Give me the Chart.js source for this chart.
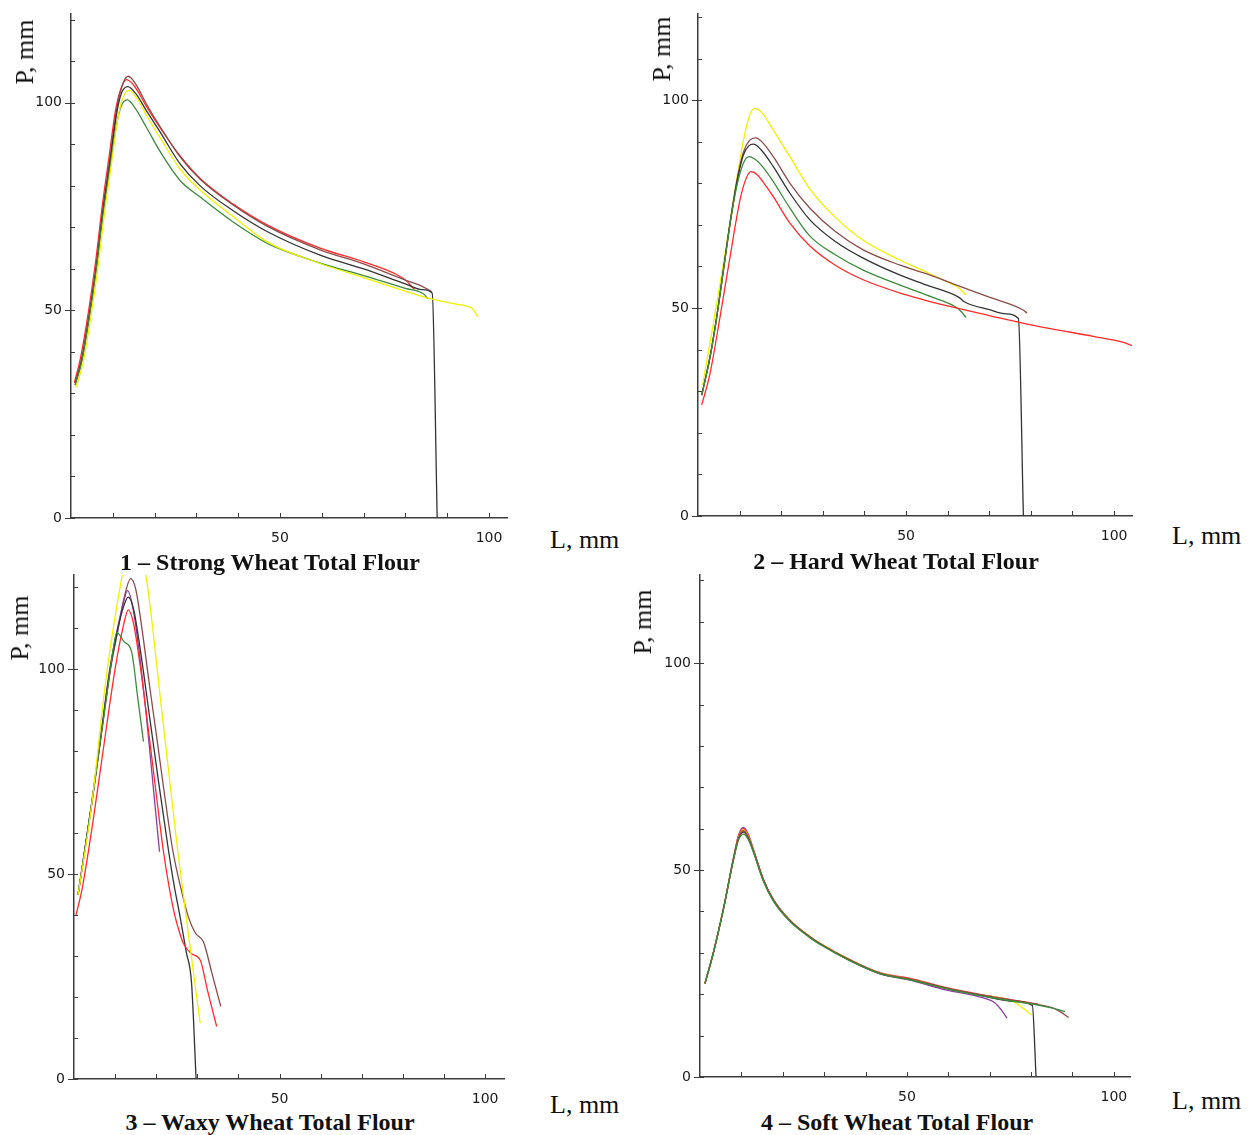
<!DOCTYPE html>
<html>
<head>
<meta charset="utf-8">
<script src="https://cdn.jsdelivr.net/npm/chart.js@4.4.1/dist/chart.umd.min.js"></script>
<style>
    body { margin: 0; background: #fff; }
    #page { position: relative; width: 1254px; height: 1135px; overflow: hidden; }
    canvas { position: absolute; }
    .axt { position: absolute; font-family: 'Liberation Serif', 'Times New Roman', serif; font-size: 26px; color: #111; white-space: nowrap; line-height: 1; }
    .rot { transform: translate(-50%, -50%) rotate(-90deg); }
    .cap { position: absolute; font-family: 'Liberation Serif', 'Times New Roman', serif; font-weight: bold; font-size: 24px; color: #111; white-space: nowrap; line-height: 1; transform: translateX(-50%); }
</style>
</head>
<body>
<div id="page">
    <canvas id="strongChart"></canvas>
    <canvas id="hardChart"></canvas>
    <canvas id="waxyChart"></canvas>
    <canvas id="softChart"></canvas>

    <div class="axt rot" style="left:25px; top:52px;">P, mm</div>
    <div class="axt" style="left:550px; top:527px;">L, mm</div>
    <div class="cap" style="left:270px; top:550px;">1 – Strong Wheat Total Flour</div>

    <div class="axt rot" style="left:662px; top:49px;">P, mm</div>
    <div class="axt" style="left:1172px; top:523px;">L, mm</div>
    <div class="cap" style="left:896px; top:549px;">2 – Hard Wheat Total Flour</div>

    <div class="axt rot" style="left:20px; top:628px;">P, mm</div>
    <div class="axt" style="left:550px; top:1092px;">L, mm</div>
    <div class="cap" style="left:270px; top:1110px;">3 – Waxy Wheat Total Flour</div>

    <div class="axt rot" style="left:643px; top:622px;">P, mm</div>
    <div class="axt" style="left:1172px; top:1088px;">L, mm</div>
    <div class="cap" style="left:897px; top:1110px;">4 – Soft Wheat Total Flour</div>
</div>
<script>
// curves as [L, P] pairs (mm)

// 1 – strong wheat
const strongRed    = [[0.8,32.5],[2.4,39.2],[4.3,50.5],[5.9,61.8],[7.5,75.3],[9.1,87],[10.7,98.5],[12.0,103.6],[13.3,105.6],[15.2,104],[18.0,99.2],[21.3,94],[26.1,87.2],[30.9,81.8],[38.8,75.6],[46.9,70.6],[59.6,65],[70,61.7],[78,58.6],[80.4,57],[81.5,55.7],[82.2,55.1]];
const strongBrown  = [[1.0,32.5],[2.6,38.8],[4.5,50.2],[6.1,61.4],[7.7,75],[9.3,86.5],[10.9,98.3],[12.2,104],[13.7,106.4],[15.5,104.5],[18.1,99.6],[21.3,94.3],[26.1,87],[30.9,81.6],[38.8,75.4],[46.9,70.3],[59.6,64.6],[70,61.2],[80,57.3],[84,55.8],[86.3,54.5]];
const strongBlack  = [[1.0,32],[2.6,38],[4.5,49.3],[6.1,60.6],[7.7,74.2],[9.3,85.5],[10.9,97.3],[12.1,102.4],[13.6,103.9],[15.5,102.2],[18.1,98],[21.3,93],[26.1,85.3],[30.9,80],[38.8,74],[46.9,69],[59.6,63.3],[70,60],[80,56.4],[84,55],[86.4,54.2],[87.6,0]];
const strongYellow = [[1.2,31.5],[2.9,37.5],[4.8,48.8],[6.4,60],[8.0,73.3],[9.6,84.8],[11.2,96.2],[12.4,101.2],[13.9,103],[15.7,101.2],[18.3,96.6],[21.5,91.3],[26.1,84],[30.9,79],[38.8,72.6],[46.9,66.5],[59.6,61.3],[70,57.9],[80,54.6],[85,53.1],[92,51.5],[95.9,50.5],[97.4,48.4]];
const strongGreen  = [[1.0,32],[2.6,37.8],[4.5,49],[6.1,60.2],[7.7,73.3],[9.3,84.2],[10.9,94.8],[12.1,99.4],[13.5,100.7],[15.3,98.8],[18.1,94],[21.3,88.3],[26.1,81.3],[30.9,77.3],[38.8,71.3],[46.9,66.2],[59.6,61.4],[70,58.4],[80,55.3],[84.3,54],[85.4,52.8]];

// 2 – hard wheat
const hardYellow = [[1.1,31.5],[3.7,46.3],[6.1,60.6],[8.5,76],[10.9,90.2],[12.5,96.6],[13.7,98],[15.5,96.8],[18.1,92.8],[22.1,86.4],[26.9,78.6],[33,71.8],[39.7,66.3],[48.6,61.5],[55,58.6],[60,56.2],[63,54.6],[64.4,53.1]];
const hardBrown  = [[0.9,29.1],[2.9,38.3],[4.5,47.9],[6.1,59.1],[7.7,70.4],[9.3,80.4],[10.9,87.5],[12.4,90.3],[13.9,90.9],[15.7,89.6],[18.1,86.4],[22.1,80],[26.9,74],[33,68.4],[39.7,64],[48.6,60.3],[55,58.2],[63,55.2],[70,52.6],[78,49.6],[79.1,48.8]];
const hardBlack  = [[0.9,29.1],[2.9,38.3],[4.5,47.9],[6.1,59.1],[7.7,70.4],[9.3,80],[10.9,86.8],[12.2,89],[13.3,89.4],[15.2,88],[18.1,84],[22.1,77.6],[26.9,71.2],[33,66],[39.7,62],[48.6,57.9],[55,55.5],[62.8,52.5],[64,51.5],[70,49.6],[74,48.6],[77,47.5],[78.2,0]];
const hardGreen  = [[0.9,29],[2.9,38.2],[4.5,47.8],[6.1,59],[7.7,70.2],[9.3,79.2],[10.9,84.8],[12.3,86.4],[13.8,85.7],[15.5,84],[18.1,80.4],[22.1,74],[26.9,67.3],[33,62.8],[39.7,59.1],[48.6,55.5],[55,53.1],[60.5,51],[62.3,50],[63.4,49],[64.4,47.7]];
const hardRed    = [[0.9,26.7],[2.9,34.3],[5.3,47.9],[7.7,62.3],[10.1,76],[11.5,81],[12.7,82.8],[14.3,82],[16,79.8],[18.1,76.8],[22.1,70.4],[26.9,64.9],[33,60.3],[39.7,56.8],[48.6,53.6],[60,50.5],[70,48.2],[77.4,46.5],[85,45],[95,43.2],[102,41.8],[104.3,41]];

// 3 – waxy wheat
const waxyYellow = [[1,45],[4,64.5],[8.1,100],[11.8,123.3],[13.5,131.5],[15,131],[17.4,123.3],[21.5,88.5],[25.2,55.9],[28,34],[30.7,13.6]];
const waxyBrown  = [[1,45],[4.3,67],[6.5,83],[8.8,99.5],[10.5,108.5],[12,116.5],[13.8,122],[15,119.5],[16.5,110],[18.3,96.5],[20.1,83.5],[22,69.5],[24,55.9],[26,46.5],[27.8,39.6],[29.5,35.6],[31.5,33.4],[33.5,26],[35.7,17.7]];
const waxyPurple = [[1,45],[4.3,67.2],[6.5,83.5],[8.7,100],[10.5,109.5],[12,116],[13,119.1],[14.3,115],[16,103],[17.7,87.5],[19.3,71],[20.8,55.4]];
const waxyBlack  = [[1,45],[4.3,67.2],[6.5,83.5],[8.8,100],[10.5,109],[12,115],[13.2,117.5],[14.5,114.5],[16.3,103.5],[18.5,87.5],[20.5,73],[22.8,57],[24.3,47.5],[25.8,39.6],[27.3,31],[28.6,23.3],[29.7,0]];
const waxyRed    = [[0.5,40],[2,46.5],[4.5,62],[7,79.5],[10,100],[12,110.5],[13.2,114.4],[14.5,111],[16,101.5],[18,86],[20,69.5],[21.7,55.9],[23.2,46.5],[24.6,39.6],[25.8,35.3],[26.6,33.1],[28.5,30.6],[30.7,29],[32.5,21.5],[34.7,12.8]];
const waxyGreen  = [[1,45],[4.3,67],[6.5,83],[8.3,96],[9.5,104.5],[10.4,108.9],[12.2,106.6],[14,104.2],[15.5,93],[16.9,82.3]];

// 4 – soft wheat
const softPurple = [[1.2,22.6],[3.2,29.9],[5.6,40.3],[8,52.5],[9.3,58.4],[10.5,60.3],[11.7,58.6],[12.9,55],[15.3,47.8],[17.7,42.9],[21.7,37.9],[26.6,33.8],[29,32.2],[36,28.3],[43.5,24.9],[50.7,23.4],[59.6,21],[67,19.5],[71.3,17.9],[72.8,16.2],[74.2,14.2]];
const softYellow = [[1.2,22.6],[3.2,29.9],[5.6,40.3],[8,52.3],[9.3,57.9],[10.5,59.7],[11.7,58.1],[12.9,54.7],[15.3,47.6],[17.7,42.8],[21.7,37.9],[26.6,33.9],[29,32.3],[36,28.4],[43.5,25.1],[50.7,23.6],[59.6,21.4],[67,19.9],[75.7,18.2],[78.1,16.6],[80.1,15]];
const softBlack  = [[1.2,22.6],[3.2,29.9],[5.6,40.3],[8,52.2],[9.3,57.6],[10.5,59.2],[11.7,57.7],[12.9,54.6],[15.3,47.6],[17.7,42.8],[21.7,37.8],[26.6,33.8],[29,32.2],[36,28.3],[43.5,25],[50.7,23.6],[59.6,21.4],[67,19.9],[75.7,18.3],[80.3,17.3],[81.2,0]];
const softRed    = [[1.2,22.6],[3.2,29.9],[5.6,40.3],[8,52.4],[9.3,58.2],[10.5,60],[11.7,58.3],[12.9,54.9],[15.3,47.8],[17.7,42.9],[21.7,37.9],[26.6,33.9],[29,32.3],[36,28.5],[43.5,25.2],[50.7,23.8],[59.6,21.6],[67,20.1],[75.7,18.6],[80.5,17.8],[81.7,17.6]];
const softGreen  = [[1.2,22.6],[3.2,29.9],[5.6,40.3],[8,52],[9.3,57.2],[10.5,58.7],[11.7,57.3],[12.9,54.3],[15.3,47.3],[17.7,42.5],[21.7,37.6],[26.6,33.6],[29,32],[36,28.2],[43.5,25],[50.7,23.5],[59.6,21.3],[67,19.8],[75.7,18.3],[80.5,17.6],[84.9,16.7],[86.5,16.3],[88.2,15.8]];
const softBrown  = [[1.2,22.6],[3.2,29.9],[5.6,40.3],[8,52.2],[9.3,57.8],[10.5,59.5],[11.7,57.9],[12.9,54.6],[15.3,47.6],[17.7,42.8],[21.7,37.8],[26.6,33.8],[29,32.2],[36,28.4],[43.5,25.1],[50.7,23.6],[59.6,21.4],[67,20],[75.7,18.5],[80.5,17.7],[84.9,16.8],[87,15.8],[89.1,14.4]];

// axis ranges [L max, P max]
const strongRange = [104.3, 121.4];
const hardRange   = [104.3, 120.7];
const waxyRange   = [104.6, 122.9];
const softRange   = [103.9, 121.3];

var RED = '#ff2a2a', BROWN = '#8c4a4a', BLACK = '#333333', YELLOW = '#f0f000', GREEN = '#3c8c3c', PURPLE = '#8c3ca0';
var AXIS = '#3c3c3c';

// small tick marks: minor ones inside the plot, majors of y also outside
var tickMarks = {
    id: 'tickMarks',
    beforeDatasetsDraw(chart) {
        var ctx = chart.ctx;
        var a = chart.chartArea;
        var x = chart.scales.x, y = chart.scales.y;
        ctx.save();
        ctx.strokeStyle = AXIS;
        ctx.lineWidth = 1;
        ctx.beginPath();
        x.ticks.forEach(t => {
            if (t.value === 0 || t.value % 10 !== 0) return;
            var px = Math.round(x.getPixelForValue(t.value)) + 0.5;
            ctx.moveTo(px, a.bottom);
            ctx.lineTo(px, a.bottom - 5);
        });
        y.ticks.forEach(t => {
            if (t.value % 10 !== 0) return;
            var py = Math.round(y.getPixelForValue(t.value)) + 0.5;
            var out = t.value % 50 === 0 ? 6 : 0;
            ctx.moveTo(a.left - out, py);
            ctx.lineTo(a.left + 4, py);
        });
        ctx.stroke();
        ctx.restore();
    }
};

function buildChart(id, box, range, series) {
    var canvas = document.getElementById(id);
    canvas.width = box.r - box.l + 70;
    canvas.height = box.b - box.t + 40;
    canvas.style.left = (box.l - 60) + 'px';
    canvas.style.top = (box.t - 10) + 'px';

    var tickFont = { family: "'DejaVu Sans', Verdana, sans-serif", size: 14 };

    return new Chart(canvas.getContext('2d'), {
        type: 'line',
        data: {
            datasets: series.map(s => ({
                data: s[0].map(p => ({ x: p[0], y: p[1] })),
                borderColor: s[1],
                borderWidth: 1.3,
                pointRadius: 0,
                fill: false,
                cubicInterpolationMode: 'monotone'
            }))
        },
        options: {
            responsive: false,
            animation: false,
            devicePixelRatio: 1,
            layout: { padding: { top: 10, right: 10, left: 0, bottom: 0 } },
            plugins: { legend: { display: false }, tooltip: { enabled: false } },
            scales: {
                x: {
                    type: 'linear', min: 0, max: range[0],
                    grid: { display: false, drawTicks: false },
                    border: { color: AXIS, width: 1.5 },
                    ticks: {
                        stepSize: 10, includeBounds: false, autoSkip: false, maxRotation: 0, padding: 12,
                        color: '#1a1a1a', font: tickFont,
                        callback: v => (v === 50 || v === 100) ? String(v) : ''
                    },
                    afterFit: s => { s.height = 30; s.paddingLeft = 0; s.paddingRight = 0; }
                },
                y: {
                    type: 'linear', min: 0, max: range[1],
                    grid: { display: false, drawTicks: false },
                    border: { color: AXIS, width: 1.5 },
                    ticks: {
                        stepSize: 10, includeBounds: false, autoSkip: false, padding: 9,
                        color: '#1a1a1a', font: tickFont,
                        callback: v => (v % 50 === 0) ? String(v) : ''
                    },
                    afterFit: s => { s.width = 60; s.paddingTop = 0; s.paddingBottom = 0; }
                }
            }
        },
        plugins: [tickMarks]
    });
}

document.addEventListener('DOMContentLoaded', () => {
    buildChart('strongChart', { l: 71, r: 507, t: 14, b: 518 }, strongRange, [
        [strongYellow, YELLOW], [strongGreen, GREEN], [strongBlack, BLACK], [strongBrown, BROWN], [strongRed, RED]
    ]);
    buildChart('hardChart', { l: 698, r: 1132, t: 14, b: 516 }, hardRange, [
        [hardRed, RED], [hardGreen, GREEN], [hardBlack, BLACK], [hardBrown, BROWN], [hardYellow, YELLOW]
    ]);
    buildChart('waxyChart', { l: 74, r: 504, t: 575, b: 1079 }, waxyRange, [
        [waxyYellow, YELLOW], [waxyGreen, GREEN], [waxyRed, RED], [waxyBlack, BLACK], [waxyPurple, PURPLE], [waxyBrown, BROWN]
    ]);
    buildChart('softChart', { l: 700, r: 1130, t: 575, b: 1077 }, softRange, [
        [softGreen, GREEN], [softBrown, BROWN], [softBlack, BLACK], [softYellow, YELLOW], [softRed, RED], [softPurple, PURPLE]
    ]);
});
</script>
</body>
</html>
